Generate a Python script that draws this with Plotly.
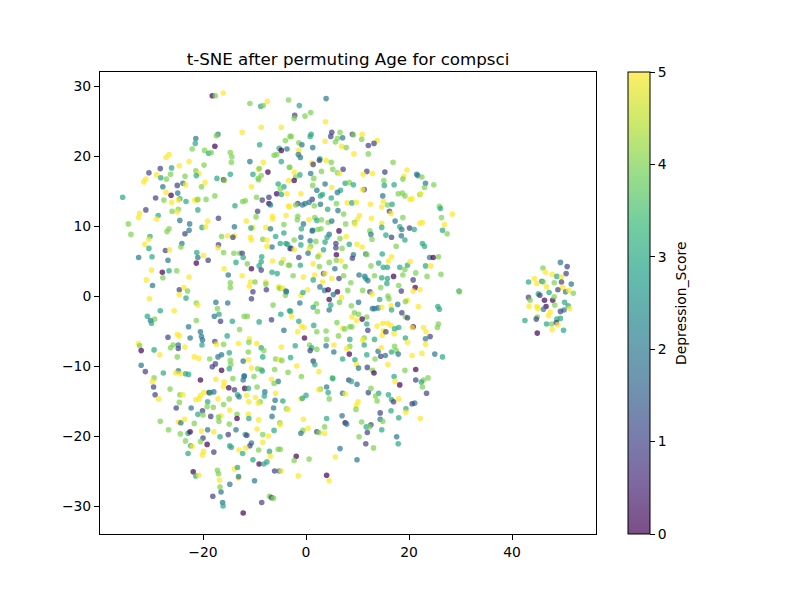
import plotly.graph_objects as go

upper_left_x = [-18.2,-17.6,-16.1,-10.9,-7.5,-8.8,-8.3,-3.4,-12.4,-8.7,-4.8,-17.1,-17.4,-21.4,-21.5,-22.1,-17.7,-19.7,-18.9,-18.4,-9.0,-4.0,-3.1,-5.2,-4.8,-3.7,-14.7,-14.4,-14.5,-10.9,-8.3,-6.2,-5.7,-4.8,-3.2,-26.6,-27.2,-22.7,-24.6,-26.1,-28.3,-30.5,-19.8,-21.4,-20.8,-21.3,-23.5,-29.0,-28.2,-27.1,-26.3,-31.1,-31.5,-17.3,-16.0,-15.9,-14.7,-10.3,-9.2,-9.1,-7.4,-8.7,-9.3,-9.2,-3.4,-27.8,-25.0,-23.9,-23.4,-19.6,-20.3,-10.6,-5.4,-4.3,-5.0,-27.2,-26.2,-24.9,-29.2,-27.6,-24.5,-26.1,-24.8,-23.3,-21.6,-21.2,-21.0,-19.4,-17.7,-13.8,-9.6,-12.3,-11.8,-8.5,-7.2,-5.7,-4.8,-3.7,-7.2,-6.9,-3.4,-35.6,-31.1,-24.8,-25.0,-26.0,-21.0,-9.4,-9.7,-32.3,-32.5,-28.7,-29.0,-34.5,-24.5,-22.6,-19.1,-17.0,-20.2,-19.5,-13.9,-11.6,-10.3,-10.7,-6.5,-6.5,-3.9,-4.3,-7.8,-6.9,-26.6,-22.7]
upper_left_y = [28.6,28.6,29.0,27.5,27.8,27.1,27.2,28.0,23.4,24.1,24.1,23.1,22.9,22.5,21.8,21.0,21.4,20.8,20.4,20.5,21.6,22.2,22.8,21.1,20.8,21.0,20.5,19.9,19.1,19.2,19.1,20.1,20.2,19.2,18.4,20.2,19.8,19.2,18.6,18.3,18.2,17.6,18.7,17.9,17.5,17.2,17.1,17.3,16.9,16.7,17.4,16.7,16.3,16.8,16.6,16.5,17.4,17.4,18.1,18.2,17.7,17.2,16.8,16.6,16.5,15.6,15.8,16.1,15.9,16.2,15.6,15.6,16.0,15.6,15.3,14.8,14.4,14.7,14.0,13.7,13.9,13.4,13.7,13.5,13.7,13.7,13.8,13.8,14.3,12.9,14.1,13.5,13.6,13.7,14.1,14.6,14.5,14.6,13.2,13.0,12.8,14.1,12.3,12.4,12.0,12.1,12.3,12.1,11.3,11.8,11.2,11.5,11.0,10.3,10.8,10.3,10.7,11.1,9.8,9.9,9.9,10.7,9.8,9.7,11.4,11.0,11.5,10.2,9.8,9.6,9.6,9.4]
upper_left_score = [0,4,5,4,5,3,4,4,5,5,5,2,4,2,3,4,0,4,3,4,3,4,4,3,0,2,4,4,4,2,5,4,4,3,4,5,5,5,5,3,1,1,4,4,5,3,4,5,3,4,4,5,5,3,0,4,3,3,5,4,0,4,4,4,5,2,1,2,5,5,4,5,3,3,4,5,0,2,1,4,3,5,5,3,5,5,4,4,4,3,4,4,4,1,1,0,3,5,0,2,5,3,1,4,5,4,3,1,4,5,5,3,5,4,2,2,5,1,3,5,2,5,5,3,5,5,5,4,5,2,4,2]

upper_right_x = [3.9,-1.3,0.9,-0.2,-2.2,-2.3,3.8,5.0,6.6,4.8,6.1,7.1,5.7,3.7,1.0,0.8,-2.9,-1.4,-0.8,1.3,-1.4,-1.5,-1.1,2.7,2.6,3.9,4.9,1.1,1.4,-3.2,6.9,7.8,9.3,9.0,9.2,10.9,10.8,13.8,13.2,12.1,12.1,16.9,7.2,5.2,6.1,6.5,3.0,0.9,-2.3,11.8,11.1,12.9,15.3,19.6,19.0,18.8,21.5,21.7,22.5,15.1,1.5,-1.2,-2.0,-2.3,1.3,3.7,7.6,8.4,9.2,15.2,17.1,23.2,24.8,23.0,5.0,2.1,6.7,6.1,11.3,11.0,17.9,18.7,19.2,14.9,22.1,22.3,20.6,20.2,-1.0,3.2,2.8,4.9,1.2,-1.6,-2.0,-0.7,-0.2,0.6,1.6,2.8,-3.2,5.9,4.2,6.2,8.0,8.9,9.8,12.5,15.0,14.7,15.8,16.7,16.2,16.5,7.3,10.4,10.0,12.7,18.8,25.9,26.1,28.4,26.3,-1.6,-1.7,0.6,1.7,2.1,3.0,-0.5,4.3,5.0,7.7,9.4,9.5,14.7,17.3,22.1,22.6,26.9,14.7,18.2,18.6,20.1,21.0,26.5,-0.9,1.3,2.3,2.9,6.4,12.4]
upper_right_y = [28.2,27.2,26.2,25.7,25.8,25.4,24.9,23.4,23.4,22.8,22.5,22.6,22.0,22.1,23.1,22.8,22.8,21.9,21.6,21.2,20.8,20.2,19.8,19.6,19.4,19.4,19.1,19.0,18.8,18.4,21.4,21.2,20.3,23.1,23.0,23.1,22.4,22.2,21.8,21.5,20.3,19.1,18.1,18.1,17.6,17.5,17.8,17.5,17.7,17.8,17.4,17.5,17.7,18.0,17.1,16.7,17.4,17.2,17.0,16.5,16.8,17.3,17.0,16.5,15.8,16.0,16.1,16.2,15.9,15.8,15.9,16.1,15.9,15.5,15.5,15.1,15.1,14.8,15.2,15.2,14.6,14.7,14.3,14.3,14.5,14.6,13.9,13.8,14.6,14.5,14.3,14.0,13.8,13.2,13.0,13.0,13.2,13.4,12.9,13.1,12.8,13.2,12.4,12.2,13.3,13.3,13.4,13.1,13.5,12.7,13.0,13.1,12.1,11.8,11.7,11.5,11.0,11.1,11.2,12.8,12.5,11.7,11.2,11.4,10.9,10.9,11.2,10.8,10.9,10.3,10.5,10.7,10.3,10.5,10.3,10.4,10.7,10.4,10.5,10.2,9.8,9.9,9.5,9.7,9.5,9.4,9.6,9.4,9.5,9.6,9.3,9.3]
upper_right_score = [2,3,4,4,1,4,5,1,4,1,4,2,4,5,3,3,4,4,2,2,5,2,2,3,1,5,4,5,1,4,5,4,5,1,4,5,4,5,1,1,4,4,1,4,4,5,4,2,5,1,5,5,1,5,5,4,2,2,4,4,4,3,4,0,4,2,3,4,3,3,3,2,4,4,5,2,3,2,1,5,4,4,4,2,4,5,5,5,5,3,3,3,1,1,4,2,2,2,4,2,5,4,3,2,5,3,5,5,5,5,4,3,1,5,4,5,5,5,4,4,3,5,4,4,4,5,4,3,4,2,4,2,4,4,5,5,2,5,5,5,3,3,2,1,3,3,3,2,4,4,0,4]

middle_left_x = [-34.0,-27.0,-30.3,-30.5,-31.3,-30.5,-23.5,-24.1,-24.3,-32.5,-29.9,-27.3,-26.5,-26.8,-21.2,-21.0,-19.9,-21.3,-19.0,-16.4,-15.2,-13.9,-14.2,-17.0,-17.1,-16.0,-14.0,-12.9,-12.4,-12.2,-10.8,-10.6,-8.4,-7.6,-5.9,-5.0,-4.3,-6.6,-7.6,-3.9,-3.1,-8.6,-8.7,-13.6,-11.4,-9.1,-6.5,-4.4,-4.8,-3.4,-30.0,-27.9,-26.6,-25.1,-27.8,-31.0,-29.8,-22.7,-15.9,-15.1,-12.4,-10.6,-8.7,-6.6,-5.6,-14.7,-14.7,-10.8,-9.9,-11.0,-7.8,-7.8,-7.7,-5.3,-5.1,-4.5,-3.9,-4.0,-10.3,-10.6,-24.6,-23.7,-23.0,-24.6,-23.3,-30.4,-21.3,-21.0,-17.5,-15.2,-17.2,-28.3,-25.6,-16.9,-17.8,-12.0,-11.4,-6.4,-4.9,-3.2,-30.8,-29.4,-30.2,-30.0,-21.3,-16.6,-14.3,-9.1,-6.7,-22.8,-12.9,-4.3,-20.5,-20.3,-20.1,-25.0,-24.6,-22.5,-26.8,-15.3,-17.7,-16.0,-17.4,-20.2,-13.1,-11.0,-11.1,-9.6,-32.5,-32.3,-32.0,-29.5,-28.4,-25.8,-26.3,-24.8,-24.8,-23.5,-8.7,-8.2,-4.8,-14.9,-11.2,-8.4,-25.0,-21.7,-20.8,-18.7,-17.1,-16.4,-11.2,-12.2,-14.7,-14.6,-5.9,-5.2,-4.7,-32.0,-17.6,-18.2,-16.4,-14.9,-10.6,-9.4,-8.7,-8.5,-6.1,-3.5,-31.2,-24.8,-27.7,-25.3,-23.4,-22.8,-24.4,-12.0]
middle_left_y = [8.8,9.2,8.5,8.1,7.4,6.8,8.9,7.5,7.0,5.5,5.6,6.5,6.6,5.1,6.2,5.5,5.8,4.7,5.1,8.5,8.6,8.6,8.4,7.3,6.9,6.2,6.1,6.1,6.1,5.5,8.4,8.0,8.1,8.0,8.5,7.5,9.0,7.0,7.1,7.5,6.8,5.6,4.9,4.8,4.6,4.3,5.0,5.2,4.7,4.4,3.7,3.4,3.6,3.6,2.6,2.3,1.5,2.7,3.9,3.0,2.9,3.9,3.7,3.4,3.2,1.9,1.2,2.0,2.0,1.4,2.0,1.7,0.9,1.3,1.1,1.1,0.7,0.1,0.6,-0.4,0.9,1.2,0.7,0.2,-0.3,-0.4,-1.0,-1.3,-0.9,-1.0,-1.8,-2.1,-2.1,-2.6,-2.9,-2.9,-2.9,-1.3,-2.6,-2.1,-2.9,-3.3,-3.5,-3.9,-3.5,-3.6,-3.6,-3.7,-3.4,-4.4,-4.8,-4.9,-5.1,-5.8,-6.3,-5.5,-5.7,-6.0,-5.9,-5.7,-6.5,-6.9,-6.9,-7.0,-6.8,-6.1,-6.6,-6.8,-6.8,-7.1,-7.8,-7.7,-8.4,-7.0,-7.4,-7.0,-7.5,-7.3,-7.4,-7.8,-7.3,-8.1,-8.0,-8.7,-8.7,-8.7,-8.9,-9.0,-8.7,-8.4,-9.1,-9.3,-9.2,-9.8,-9.0,-9.1,-9.2,-9.9,-9.7,-10.1,-10.6,-10.4,-10.3,-10.4,-10.5,-10.7,-10.5,-10.9,-10.8,-10.7,-11.0,-11.0,-11.1,-11.2,-11.1,-11.4]
middle_left_score = [4,4,3,5,5,3,1,2,4,2,3,1,5,2,3,2,5,0,1,4,5,5,1,1,5,4,4,4,1,3,5,5,4,5,3,3,3,2,5,3,1,3,3,3,4,3,5,5,4,4,5,0,3,4,4,5,2,5,5,2,5,0,1,3,3,4,4,5,4,5,5,4,1,5,4,5,2,4,1,1,1,5,4,5,3,5,4,5,2,2,4,3,5,3,2,4,4,4,3,3,3,4,2,3,4,1,3,3,1,2,4,2,2,2,2,5,5,2,1,3,1,4,5,3,5,5,4,5,5,4,0,3,5,4,4,2,1,5,3,4,5,3,4,3,4,5,5,4,2,2,5,2,4,4,4,5,4,2,1,1,0,3,5,4,4,3,4,4,1,2,3,5,3,3,5,2]

middle_right_x = [-2.3,-1.0,1.2,4.5,4.1,3.7,0.8,1.9,-1.0,-3.6,-2.9,-2.3,0.9,0.6,0.4,3.4,5.8,5.8,6.6,7.8,7.0,5.9,8.4,9.9,10.9,12.6,12.8,15.5,16.6,18.5,19.2,17.5,22.6,23.0,27.4,-1.4,2.6,2.3,-3.2,-1.1,1.4,2.6,4.5,5.9,6.8,5.6,7.6,9.2,9.0,11.6,11.8,14.8,16.6,16.0,14.1,12.6,15.0,15.8,18.2,19.7,20.2,19.2,21.3,24.0,24.7,25.7,23.2,24.2,26.2,23.5,3.4,3.7,1.7,-2.5,-0.5,1.4,3.2,5.0,6.4,7.3,10.3,11.4,11.6,12.0,13.3,14.7,15.8,15.7,17.0,18.8,20.8,8.7,14.5,18.0,21.2,20.8,22.1,18.5,0.3,2.7,3.6,4.3,6.1,5.3,8.1,11.0,12.4,12.8,-1.0,-0.6,-3.8,6.9,4.5,6.5,10.2,14.3,15.9,16.1,-1.2,2.0,1.4,4.8,8.8,17.8,19.7,19.3,21.8,25.6,25.9,4.5,2.2,-3.0,-2.8,12.9,13.3,14.0,14.7,16.5,16.6,9.4,10.2,8.9,11.8,9.8,10.9,18.6,19.3,19.7,-1.4,6.0,7.1,7.5,8.5,8.9,11.8,12.0,13.8,14.9,15.8,16.5,17.2,18.0,20.8,20.6,22.8,23.3,25.7,25.5,1.5,-0.9,-0.4,-1.6,2.1,3.9,6.3,15.0,14.8,15.5,17.1,24.1,23.2,19.3,-0.3,4.0,8.5,11.3,11.0,13.3,19.7,23.2,-2.1,0.7,1.1,0.8,2.1,3.9,5.4,8.5,7.9,11.3,5.4,8.4,11.8,14.0,14.6,17.2,16.6,17.5,14.5,15.4,17.9,20.6,22.5,25.0,26.5,-3.0,7.1,9.5,13.4,1.4,1.7,-1.8,9.8,15.9,10.2,11.9,12.9,19.2,21.3,2.5,13.2]
middle_right_y = [8.0,8.4,9.3,8.8,8.4,7.7,7.9,7.8,7.3,7.4,6.8,6.6,7.1,6.7,6.1,6.6,7.5,6.9,8.2,8.5,6.8,5.9,7.4,7.4,7.0,8.8,8.1,8.7,8.4,8.6,8.0,7.1,7.5,7.1,8.9,5.5,5.9,5.6,4.4,4.4,4.6,4.2,4.8,5.1,5.0,3.9,4.2,5.9,5.4,6.0,5.9,6.0,5.6,5.0,4.7,4.3,4.1,4.1,4.1,4.4,4.9,3.8,3.3,5.5,5.5,5.6,4.3,4.3,3.1,2.8,3.2,3.2,3.0,2.9,2.7,2.3,2.0,2.5,2.5,2.9,3.0,2.8,2.5,2.2,2.9,2.6,2.5,1.8,2.8,3.0,2.3,1.9,1.2,1.5,1.2,0.7,0.9,0.7,0.9,1.3,0.8,0.9,0.6,0.2,0.8,0.8,0.6,0.3,0.1,0.5,0.6,-0.2,-0.5,-0.9,-0.9,-0.5,0.0,-0.4,-1.0,-1.1,-1.6,-1.3,-1.4,-1.2,-0.6,-0.8,-1.5,-1.5,-1.9,-2.0,-2.2,-2.2,-2.9,-1.8,-1.8,-1.7,-1.6,-1.4,-2.0,-2.4,-2.6,-3.0,-3.0,-3.5,-3.3,-2.4,-3.0,-3.1,-3.6,-3.8,-4.6,-4.7,-4.4,-4.4,-4.0,-4.9,-4.3,-3.9,-3.9,-4.2,-4.7,-4.5,-4.4,-4.5,-4.5,-5.1,-4.0,-4.5,-4.2,-4.3,-4.5,-5.1,-5.1,-5.0,-5.7,-5.0,-5.6,-5.1,-5.4,-5.8,-6.1,-6.0,-6.0,-6.2,-6.2,-6.0,-6.3,-6.2,-6.6,-6.9,-7.1,-7.0,-7.4,-7.8,-7.6,-7.1,-7.0,-7.2,-7.5,-7.0,-8.0,-8.3,-8.4,-7.9,-7.4,-7.2,-8.0,-7.8,-8.6,-8.5,-8.3,-8.5,-8.2,-8.3,-8.7,-8.8,-9.0,-9.1,-9.0,-9.3,-9.8,-10.0,-9.8,-9.8,-10.3,-10.2,-10.6,-10.6,-10.5,-10.8,-11.0]
middle_right_score = [4,2,2,2,3,3,2,4,3,3,1,5,4,5,2,3,1,1,4,5,4,0,3,5,5,2,4,3,1,2,3,4,3,3,4,1,5,4,4,3,5,4,4,4,5,2,4,2,1,2,4,3,5,5,3,4,3,3,3,3,5,4,4,2,0,4,3,5,4,4,1,5,5,4,5,3,5,5,1,4,2,2,3,2,4,3,3,3,0,4,1,4,4,4,0,5,5,1,5,2,2,0,0,2,4,4,1,5,5,3,2,5,0,4,2,3,4,4,2,4,3,3,4,2,5,4,5,3,3,2,4,3,5,2,2,2,5,5,3,4,4,5,4,5,0,1,4,1,3,4,5,4,4,4,3,1,5,5,5,5,3,3,0,5,5,5,4,4,3,5,5,5,4,4,4,5,5,1,5,1,2,3,0,4,3,4,5,3,5,5,3,4,3,1,4,2,5,4,5,3,2,0,3,2,5,4,3,4,1,2,2,5,5,2,3,3,3,3,4,1,3,5,5,5,2,1,4,4,0,5,0]

lower_left_x = [-29.5,-29.8,-29.6,-29.3,-28.6,-26.4,-20.5,-17.5,-14.2,-12.0,-12.2,-10.1,-6.7,-5.4,-6.2,-0.9,-15.9,-16.0,-15.0,-13.9,-11.9,-11.2,-9.5,-8.0,-8.1,-5.9,-11.5,-9.8,-13.3,-13.0,-14.9,-17.1,-19.8,-20.5,-18.8,-18.6,-17.9,-24.5,-23.9,-21.4,-20.8,-24.6,-19.1,-19.2,-18.0,-16.0,-11.1,-8.9,-9.3,-6.0,-4.5,-1.0,-0.7,0.0,-25.2,-22.3,-20.1,-21.0,-20.0,-14.8,-16.5,-18.5,-17.0,-16.9,-13.4,-13.4,-11.2,-11.1,-6.3,-6.6,-3.8,-3.5,-9.2,-0.5,-28.3,-24.8,-24.3,-23.6,-21.7,-14.9,-5.1,-5.0,-26.7,-24.4,-22.9,-22.5,-20.3,-19.1,-17.9,-13.6,-15.1,-9.5,-6.2,-8.4,-7.3,-11.8,-11.5,-0.6,-1.0,0.4,-20.0,-16.7,-23.4,-20.5,-19.2,-22.4,-22.1,-14.8,-14.5,-10.6,-10.9,-8.4,-11.7,-13.0,-19.9,-17.9,-20.1,-22.9,-12.3,-9.2,-7.1,-6.9,-5.4,-5.0,-10.3,-9.1,-8.2,-7.6,-1.9,-2.3,0.6,-13.9,-13.3,-6.1,-5.2,-4.8,-21.9,-21.4,-20.8,-17.2,-17.0,-1.5,-13.1,-13.1,-16.8,-10.0,-14.8,-16.7,-16.5,-18.1,-7.1,-6.7,-6.3,-16.2,-8.6,-16.1,-12.2]
lower_left_y = [-11.7,-12.2,-13.0,-14.1,-14.7,-13.3,-12.0,-11.9,-11.8,-11.5,-12.0,-11.5,-11.9,-12.2,-12.5,-11.5,-12.3,-12.9,-13.1,-13.4,-13.2,-13.2,-13.0,-13.7,-14.3,-13.9,-14.2,-14.5,-14.1,-14.4,-14.7,-14.7,-13.8,-14.2,-13.8,-13.8,-13.7,-14.1,-14.1,-14.8,-14.7,-15.2,-15.1,-15.8,-15.9,-15.5,-15.1,-15.1,-15.3,-14.9,-15.0,-14.7,-14.6,-14.2,-16.0,-16.0,-16.4,-16.9,-17.0,-16.3,-17.1,-17.2,-17.3,-17.9,-16.9,-17.5,-16.9,-17.5,-16.0,-17.2,-16.1,-16.2,-17.7,-17.6,-17.9,-18.0,-18.1,-17.6,-18.2,-18.3,-18.1,-18.4,-19.1,-19.7,-19.6,-19.4,-19.3,-19.1,-19.4,-19.1,-19.8,-19.0,-19.2,-19.8,-20.0,-19.8,-19.9,-19.2,-19.6,-18.9,-20.3,-20.1,-20.7,-20.8,-21.2,-21.4,-21.5,-21.4,-21.6,-21.0,-21.4,-20.9,-21.7,-22.0,-22.2,-22.3,-22.7,-22.5,-22.5,-22.0,-22.2,-22.9,-21.9,-21.9,-23.4,-24.0,-24.0,-23.7,-22.9,-23.5,-23.3,-24.7,-24.5,-25.0,-25.0,-25.0,-25.1,-25.7,-25.6,-24.9,-25.4,-25.7,-26.0,-25.8,-26.3,-26.4,-26.9,-27.3,-28.0,-28.6,-28.6,-28.8,-28.9,-29.5,-29.5,-30.0,-31.0]
lower_left_score = [4,5,1,1,5,4,0,5,4,2,2,4,5,2,4,4,5,5,0,1,0,3,4,2,3,5,5,5,3,2,4,5,5,5,0,3,2,4,5,5,5,4,3,4,4,4,5,4,5,2,3,5,3,3,1,2,1,3,4,5,5,1,4,4,4,0,5,3,2,2,4,5,5,5,4,5,2,5,4,4,4,5,4,4,3,0,5,2,5,2,1,5,3,4,5,3,1,4,2,5,1,3,4,4,0,3,5,3,3,2,1,5,5,5,5,1,5,3,3,4,3,5,4,4,3,0,3,3,0,4,4,5,3,1,2,5,0,3,5,4,4,5,5,2,5,2,2,4,2,1,4,1,4,2,1,3,0]

lower_right_x = [5.1,5.2,8.3,8.8,9.9,17.1,17.3,18.2,21.3,22.8,23.7,22.4,22.6,4.0,4.3,2.8,2.5,4.5,7.1,7.6,12.1,12.6,14.1,13.5,13.8,16.0,16.6,17.0,18.0,23.4,10.1,9.8,9.7,21.1,20.6,19.4,19.4,16.5,14.4,7.0,4.0,18.0,22.2,14.4,14.9,7.6,7.9,10.8,12.6,11.7,12.3,14.7,3.6,2.1,2.5,3.6,11.9,10.3,17.6,17.9,11.6,13.1,6.6,5.7,9.9,4.0,4.5,29.7,29.8]
lower_right_y = [-11.7,-11.8,-12.0,-12.2,-12.6,-11.5,-12.2,-12.7,-12.0,-12.0,-11.7,-12.3,-13.0,-13.0,-13.8,-13.3,-13.4,-14.7,-13.9,-14.0,-13.8,-13.2,-13.9,-14.3,-15.0,-14.1,-14.8,-15.1,-14.7,-13.9,-15.1,-15.6,-16.2,-15.3,-15.4,-16.1,-16.6,-16.4,-16.7,-17.1,-17.5,-17.4,-17.5,-17.6,-17.9,-18.1,-18.3,-18.0,-18.4,-18.7,-18.7,-19.1,-18.7,-19.4,-19.5,-19.6,-19.5,-20.1,-20.1,-21.1,-21.1,-21.7,-21.8,-23.0,-23.4,-25.6,-26.4,0.7,0.6]
lower_right_score = [4,3,1,3,2,3,5,0,1,4,4,3,4,2,3,4,5,4,2,5,1,4,3,4,4,3,3,1,5,1,5,5,4,2,1,3,5,3,1,2,3,3,5,2,4,0,2,4,1,3,4,3,4,1,4,5,1,4,2,3,1,4,2,5,2,0,5,3,4]

cluster_x = [49.4,50.7,46.0,46.5,47.8,50.5,44.3,48.7,49.6,43.2,44.8,45.8,46.0,49.6,48.2,51.5,46.7,49.8,48.9,50.4,51.0,51.9,47.2,45.1,45.4,43.2,43.5,46.3,47.9,48.2,50.2,48.3,50.9,43.3,44.8,45.0,46.6,46.1,51.2,50.1,49.4,47.4,47.1,48.7,49.4,44.9,44.7,42.5,46.7,47.7,48.6,48.9,47.8,50.0,44.9]
cluster_y = [4.8,4.2,4.0,3.4,3.1,3.2,2.5,2.8,2.7,2.0,1.8,2.1,2.0,2.0,1.9,1.7,1.3,1.2,0.9,0.6,0.8,0.4,0.5,0.3,0.1,-0.2,-0.6,-0.6,-0.6,-0.1,-0.9,-1.3,-1.4,-1.5,-1.5,-1.8,-1.5,-1.9,-1.8,-2.0,-2.2,-2.3,-2.8,-3.3,-3.2,-3.0,-3.3,-3.5,-4.0,-4.0,-3.8,-4.1,-4.8,-4.9,-5.3]
cluster_score = [2,1,4,5,5,1,5,3,5,3,5,2,4,1,4,2,5,5,1,2,5,4,3,3,1,1,4,0,0,4,3,4,3,5,5,5,0,2,5,2,1,5,5,3,3,4,1,3,3,4,1,5,5,3,0]

x_values = upper_left_x + upper_right_x + middle_left_x + middle_right_x + lower_left_x + lower_right_x + cluster_x
y_values = upper_left_y + upper_right_y + middle_left_y + middle_right_y + lower_left_y + lower_right_y + cluster_y
scores = upper_left_score + upper_right_score + middle_left_score + middle_right_score + lower_left_score + lower_right_score + cluster_score

viridis = ["#440154", "#482878", "#3e4989", "#31688e", "#26828e",
           "#1f9e89", "#35b779", "#6ece58", "#b5de2b", "#fde725"]
def rgba(h, a=0.7):
    return f"rgba({int(h[1:3],16)},{int(h[3:5],16)},{int(h[5:7],16)},{a})"
scale = [[i / 9, rgba(c)] for i, c in enumerate(viridis)]

FONT = "DejaVu Sans"
fig = go.Figure(go.Scatter(
    x=x_values, y=y_values, mode="markers",
    marker=dict(
        size=5.6, color=scores, colorscale=scale, cmin=0, cmax=5,
        line=dict(width=0),
        colorbar=dict(
            thickness=22, thicknessmode="pixels", len=1, lenmode="fraction",
            x=1.0645, xanchor="left", y=0.5, yanchor="middle", xpad=0, ypad=0,
            outlinewidth=1, outlinecolor="black",
            ticks="outside", ticklen=5, tickwidth=1, tickcolor="black",
            tick0=0, dtick=1,
            tickfont=dict(family=FONT, size=13.9, color="black"),
        ),
    ),
    hoverinfo="skip",
))
axis = dict(showgrid=False, zeroline=False, showline=True, mirror=True, linecolor="black", linewidth=1,
            ticks="outside", ticklen=5, tickwidth=1, tickcolor="black",
            tickfont=dict(family=FONT, size=13.9, color="black"))
fig.update_layout(
    width=800, height=600, autosize=False,
    margin=dict(l=100, r=204, t=72, b=66),
    paper_bgcolor="white", plot_bgcolor="white",
    font=dict(family=FONT, color="black"),
    title=dict(text="t-SNE after permuting Age for compsci", x=348/800, xanchor="center",
               y=1-59/600, yanchor="middle", font=dict(family=FONT, size=16.7, color="black")),
    xaxis=dict(range=[-40, 56.3], tickmode="array", tickvals=[-20, 0, 20, 40], **axis),
    yaxis=dict(range=[-34, 32], tickmode="array", tickvals=[-30, -20, -10, 0, 10, 20, 30], **axis),
    showlegend=False,
    annotations=[dict(text="Depression_Score", textangle=-90, xref="paper", yref="paper",
                      x=(681-100)/496, y=0.5, xanchor="center", yanchor="middle", showarrow=False,
                      font=dict(family=FONT, size=13.9, color="black"))],
)
fig.write_html("out.html", post_script="document.body.style.margin='0';", config={"displayModeBar": False})
